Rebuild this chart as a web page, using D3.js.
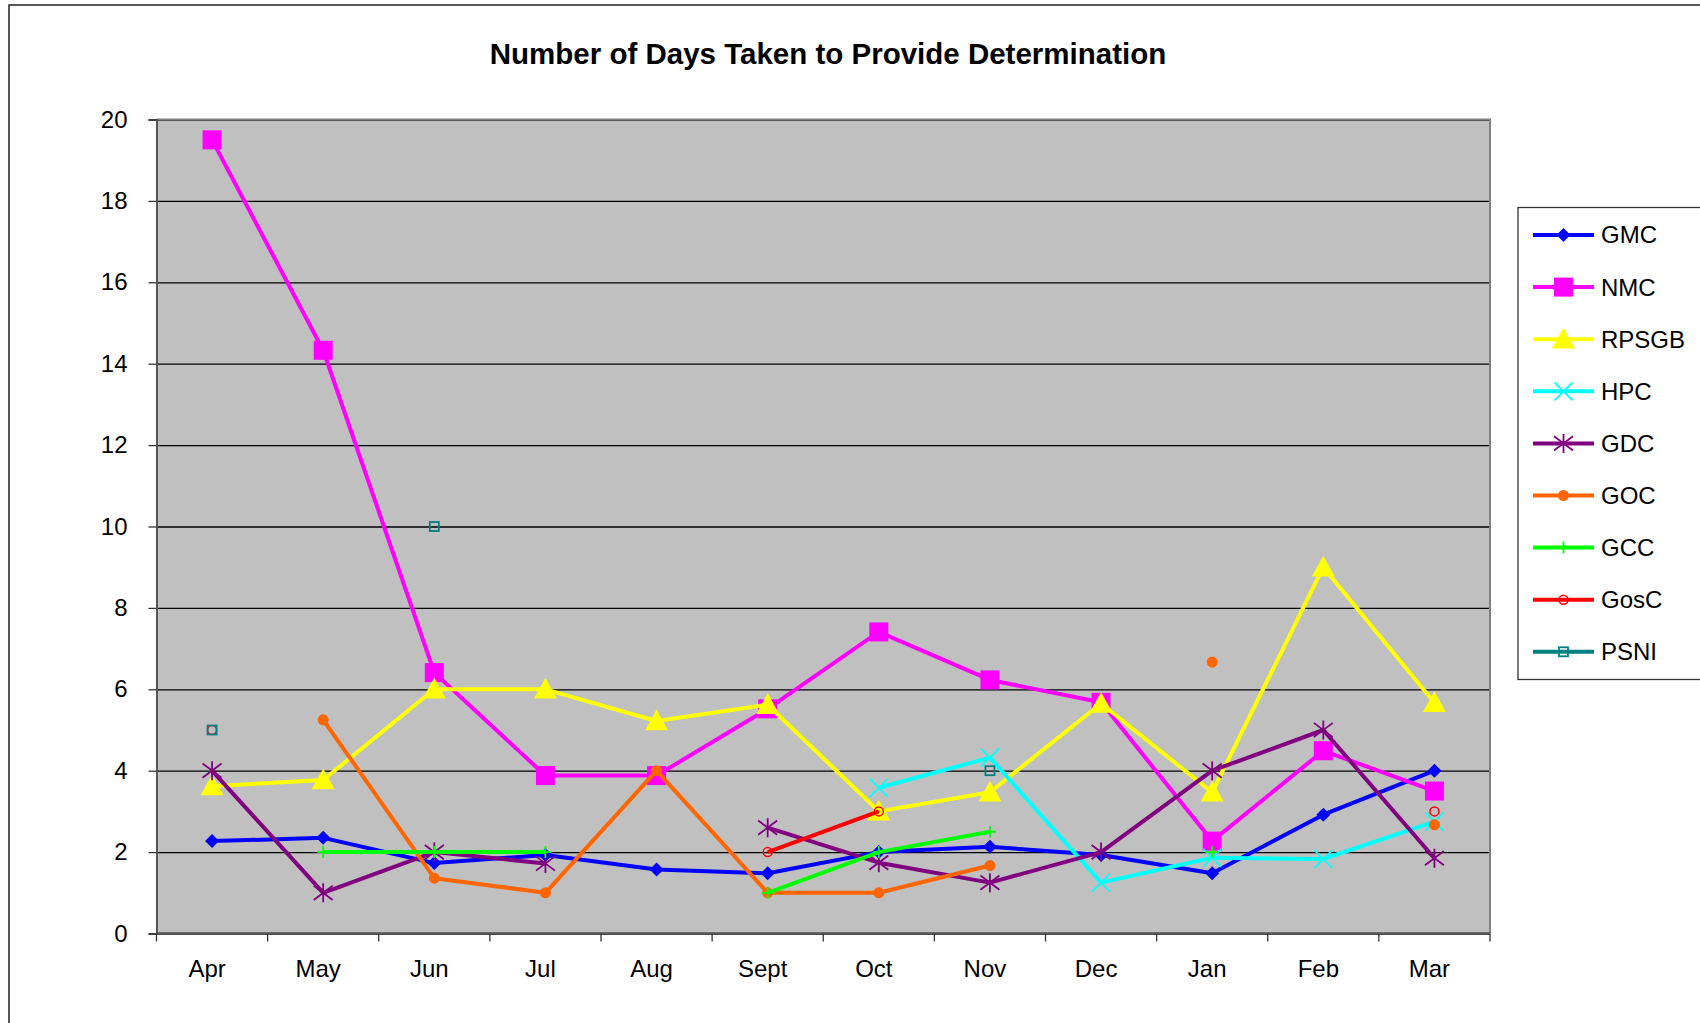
<!DOCTYPE html>
<html>
<head>
<meta charset="utf-8">
<script src="https://cdn.jsdelivr.net/npm/d3@7"></script>
<style>
  body { margin: 0; background: #fff; }
  svg { display: block; }
</style>
</head>
<body>
<script>
// data (null = no value that month)
const months = ["Apr", "May", "Jun", "Jul", "Aug", "Sept", "Oct", "Nov", "Dec", "Jan", "Feb", "Mar"];
const yTicks = [0, 2, 4, 6, 8, 10, 12, 14, 16, 18, 20];

const gmc   = [2.27, 2.35, 1.73, 1.93, 1.57, 1.48, 2.0, 2.13, 1.93, 1.48, 2.92, 4.0];
const nmc   = [19.5, 14.33, 6.41, 3.88, 3.88, 5.52, 7.41, 6.23, 5.68, 2.27, 4.49, 3.5];
const rpsgb = [3.62, 3.77, 6.0, 6.0, 5.22, 5.62, 3.0, 3.47, 5.65, 3.47, 9.0, 5.67];
const hpc   = [null, null, null, null, null, null, 3.58, 4.32, 1.25, 1.86, 1.83, 2.75];
const gdc   = [4.0, 1.0, 2.0, 1.72, null, 2.6, 1.74, 1.25, 2.0, 4.0, 5.0, 1.85];
const goc   = [null, 5.25, 1.36, 1.0, 4.0, 1.0, 1.0, 1.67, null, 6.67, null, 2.67];
const gcc   = [null, 2.0, 2.0, 2.0, null, 1.0, 2.0, 2.5, null, 2.0, null, null];
const gosc  = [5.0, null, null, null, null, 2.0, 3.0, null, null, null, null, 3.0];
const psni  = [5.0, null, 10.0, null, null, null, null, 4.0, null, null, null, null];

const seriesNames = ["GMC", "NMC", "RPSGB", "HPC", "GDC", "GOC", "GCC", "GosC", "PSNI"];
const seriesValues = [gmc, nmc, rpsgb, hpc, gdc, goc, gcc, gosc, psni];
const seriesColors = ["#0000ff", "#ff00ff", "#ffff00", "#00ffff", "#800080", "#ff6600", "#00ff00", "#ff0000", "#008080"];
const seriesMarkers = ["diamond", "square", "triangle", "x", "star", "dot", "plus", "ring", "box"];

const canvWidth = 1700, canvHeight = 1023;
const svg = d3.select("body").append("svg")
    .attr("width", canvWidth)
    .attr("height", canvHeight)
    .style("font-family", "Arial, 'Liberation Sans', sans-serif");

// outer chart border (runs off the page on the right / bottom)
svg.append("rect")
    .attr("x", 9).attr("y", 5)
    .attr("width", 1800).attr("height", 1100)
    .attr("fill", "#fff")
    .attr("stroke", "#222")
    .attr("stroke-width", 1.5);

// plot area
const plot = {left: 156.5, right: 1490, top: 119.5, bottom: 933.5};

const x = d3.scaleBand()
    .domain(months)
    .range([plot.left, plot.right])
    .padding(0);
const cx = m => x(m) + x.bandwidth() / 2;

const y = d3.scaleLinear()
    .domain([0, 20])
    .range([plot.bottom, plot.top]);

svg.append("rect")
    .attr("x", plot.left).attr("y", plot.top)
    .attr("width", plot.right - plot.left)
    .attr("height", plot.bottom - plot.top)
    .attr("fill", "#c0c0c0");

// gridlines
svg.append("g")
    .attr("transform", "translate(" + plot.left + ",0)")
    .call(d3.axisLeft(y).tickValues(yTicks).tickSize(-(plot.right - plot.left)).tickFormat(""))
    .call(g => g.select(".domain").remove())
    .call(g => g.selectAll("line").attr("stroke", "#000").attr("stroke-width", 1.3));

// plot border right/top
svg.append("path")
    .attr("d", "M" + plot.left + "," + plot.top + "H" + plot.right + "V" + plot.bottom)
    .attr("fill", "none")
    .attr("stroke", "#808080")
    .attr("stroke-width", 2);

// y axis
svg.append("g")
    .attr("transform", "translate(" + plot.left + ",0)")
    .call(d3.axisLeft(y).tickValues(yTicks).tickSize(8).tickPadding(21))
    .call(g => g.select(".domain").attr("stroke", "#555").attr("stroke-width", 2))
    .call(g => g.selectAll("line").attr("stroke", "#333").attr("stroke-width", 1.3))
    .call(g => g.selectAll("text").attr("font-size", "24px").attr("fill", "#000")
        .style("font-family", "Arial, 'Liberation Sans', sans-serif"));

// x axis: labels centred in bands (Excel sets them a touch left), ticks at band edges
svg.append("g")
    .attr("transform", "translate(-5," + plot.bottom + ")")
    .call(d3.axisBottom(x).tickSize(0).tickPadding(26))
    .call(g => g.select(".domain").remove())
    .call(g => g.selectAll("text").attr("font-size", "24px").attr("fill", "#000")
        .style("font-family", "Arial, 'Liberation Sans', sans-serif"));

svg.append("line")
    .attr("x1", plot.left).attr("x2", plot.right)
    .attr("y1", plot.bottom).attr("y2", plot.bottom)
    .attr("stroke", "#555")
    .attr("stroke-width", 2.5);

svg.append("g").selectAll("line")
    .data(months.map(m => x(m)).concat([plot.right]))
    .enter().append("line")
    .attr("x1", d => d).attr("x2", d => d)
    .attr("y1", plot.bottom).attr("y2", plot.bottom + 8)
    .attr("stroke", "#333")
    .attr("stroke-width", 1.3);

// title
svg.append("text")
    .attr("x", 828)
    .attr("y", 64)
    .attr("text-anchor", "middle")
    .attr("font-size", "29.5px")
    .attr("font-weight", "bold")
    .text("Number of Days Taken to Provide Determination");

// marker shapes
function drawMarker(sel, type, color, scale) {
    const k = scale || 1;
    if (type === "diamond") {
        const s = 7 * k;
        sel.append("path").attr("d", `M0,${-s}L${s},0L0,${s}L${-s},0Z`).attr("fill", color);
    } else if (type === "square") {
        const s = 9.5 * k;
        sel.append("rect").attr("x", -s).attr("y", -s).attr("width", 2 * s).attr("height", 2 * s).attr("fill", color);
    } else if (type === "triangle") {
        const s = 11.5 * k;
        sel.append("path").attr("d", `M0,${-s}L${s},${s * 0.8}L${-s},${s * 0.8}Z`).attr("fill", color);
    } else if (type === "x") {
        const s = 9 * k;
        sel.append("path").attr("d", `M${-s},${-s}L${s},${s}M${-s},${s}L${s},${-s}`)
            .attr("stroke", color).attr("stroke-width", 1.8).attr("fill", "none");
    } else if (type === "star") {
        const s = 9.5 * k;
        sel.append("path").attr("d", `M${-s},${-s * 0.75}L${s},${s * 0.75}M${-s},${s * 0.75}L${s},${-s * 0.75}M0,${-s}L0,${s}`)
            .attr("stroke", color).attr("stroke-width", 1.8).attr("fill", "none");
    } else if (type === "dot") {
        sel.append("circle").attr("r", 5.5 * k).attr("fill", color);
    } else if (type === "plus") {
        const s = 6 * k;
        sel.append("path").attr("d", `M${-s},0L${s},0M0,${-s}L0,${s}`)
            .attr("stroke", color).attr("stroke-width", 1.8).attr("fill", "none");
    } else if (type === "ring") {
        sel.append("circle").attr("r", 4.5 * k).attr("fill", "none").attr("stroke", color).attr("stroke-width", 1.5);
    } else if (type === "box") {
        const s = 4.5 * k;
        sel.append("rect").attr("x", -s).attr("y", -s).attr("width", 2 * s).attr("height", 2 * s)
            .attr("fill", "none").attr("stroke", color).attr("stroke-width", 1.8);
    }
}

const line = d3.line()
    .defined(d => d.v != null)
    .x(d => cx(d.m))
    .y(d => y(d.v));

seriesNames.forEach((name, i) => {
    const pts = months.map((m, j) => ({m: m, v: seriesValues[i][j]}));
    svg.append("path")
        .datum(pts)
        .attr("d", line)
        .attr("fill", "none")
        .attr("stroke", seriesColors[i])
        .attr("stroke-width", 4)
        .attr("stroke-linejoin", "round");

    svg.append("g").selectAll("g")
        .data(pts.filter(d => d.v != null))
        .enter().append("g")
        .attr("transform", d => "translate(" + cx(d.m) + "," + y(d.v) + ")")
        .each(function() { drawMarker(d3.select(this), seriesMarkers[i], seriesColors[i]); });
});

// legend (runs off the right edge)
const legend = svg.append("g");
legend.append("rect")
    .attr("x", 1518).attr("y", 207.5)
    .attr("width", 250).attr("height", 472)
    .attr("fill", "#fff")
    .attr("stroke", "#333")
    .attr("stroke-width", 1.3);

seriesNames.forEach((name, i) => {
    const ly = 235 + i * 52.1;
    const item = legend.append("g");
    item.append("line")
        .attr("x1", 1533).attr("x2", 1594)
        .attr("y1", ly).attr("y2", ly)
        .attr("stroke", seriesColors[i])
        .attr("stroke-width", 4);
    const mk = item.append("g").attr("transform", "translate(1563.5," + ly + ")");
    drawMarker(mk, seriesMarkers[i], seriesColors[i]);
    item.append("text")
        .attr("x", 1601)
        .attr("y", ly)
        .attr("dy", "0.35em")
        .attr("font-size", "24px")
        .text(name);
});
</script>
</body>
</html>
